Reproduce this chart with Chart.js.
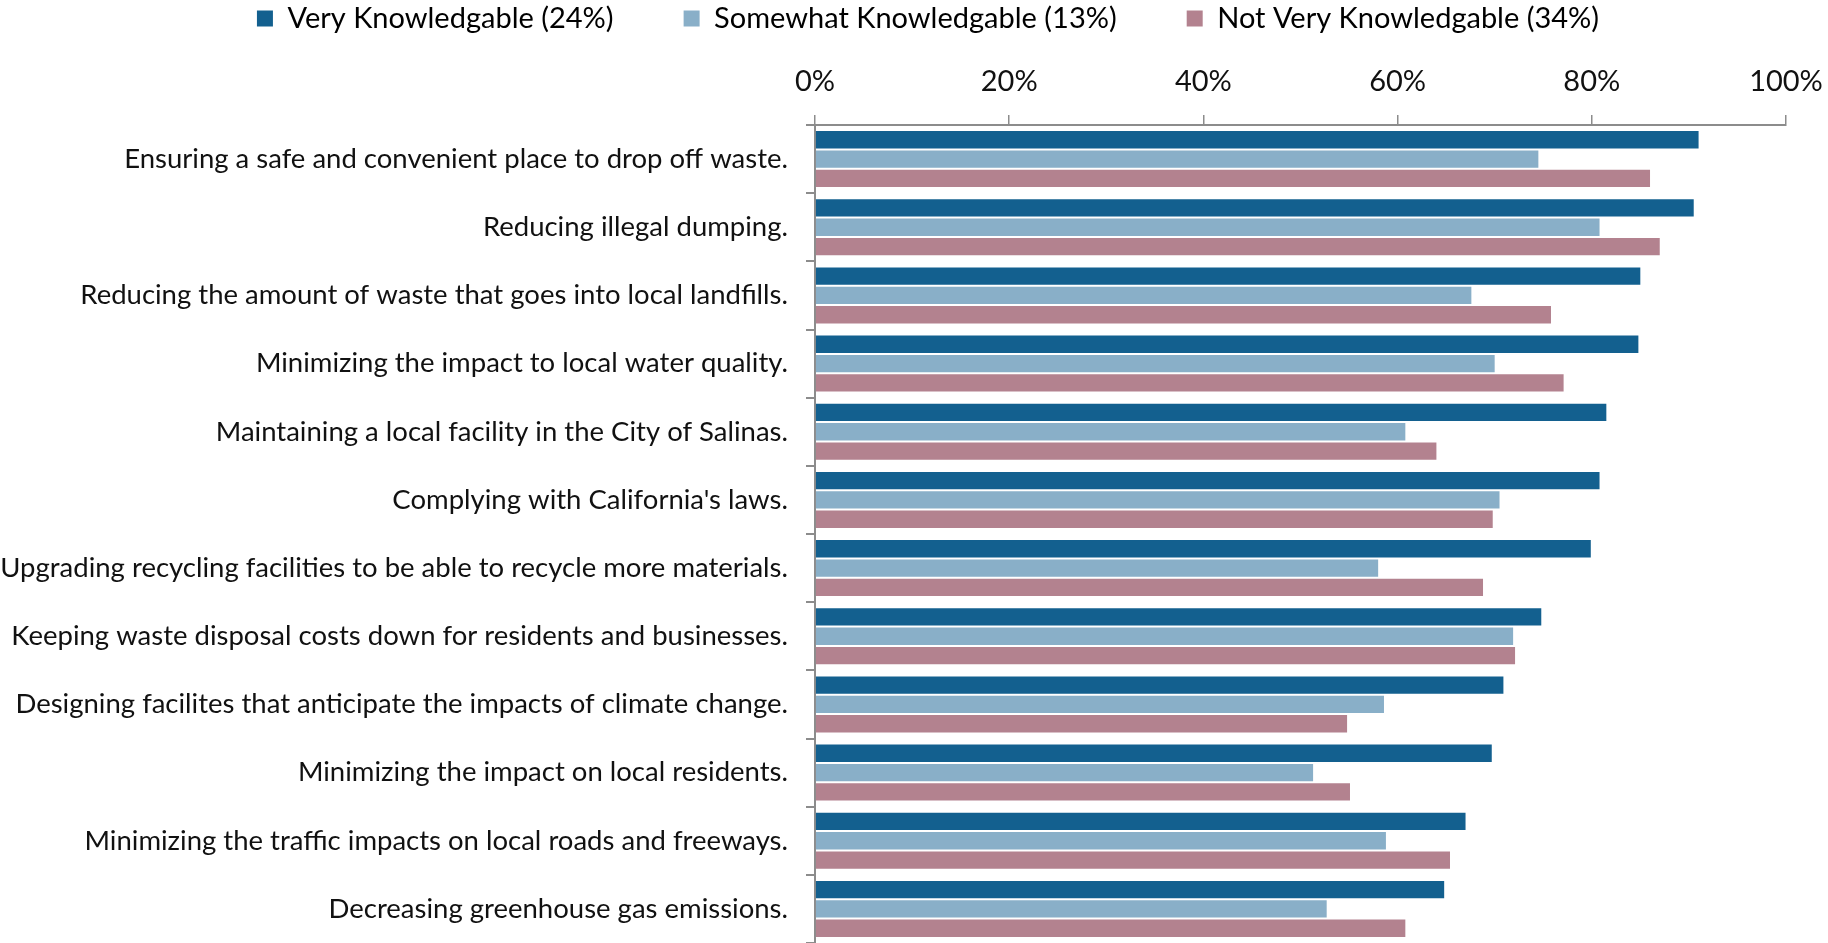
<!DOCTYPE html>
<html>
<head>
<meta charset="utf-8">
<script src="https://cdn.jsdelivr.net/npm/chart.js@4/dist/chart.umd.min.js"></script>
<style>
    html, body { margin: 0; padding: 0; background: #fff; }
    #wrap { width: 1828px; height: 943px; position: relative; }
</style>
</head>
<body>
<div id="wrap"><canvas id="chart"></canvas></div>
<script>
const categories = [
    'Ensuring a safe and convenient place to drop off waste.',
    'Reducing illegal dumping.',
    'Reducing the amount of waste that goes into local landfills.',
    'Minimizing the impact to local water quality.',
    'Maintaining a local facility in the City of Salinas.',
    "Complying with California's laws.",
    'Upgrading recycling facilities to be able to recycle more materials.',
    'Keeping waste disposal costs down for residents and businesses.',
    'Designing facilites that anticipate the impacts of climate change.',
    'Minimizing the impact on local residents.',
    'Minimizing the traffic impacts on local roads and freeways.',
    'Decreasing greenhouse gas emissions.',
];
const seriesNames = ['Very Knowledgable (24%)', 'Somewhat Knowledgable (13%)', 'Not Very Knowledgable (34%)'];
const veryKnowledgable = [91.1, 90.6, 85.1, 84.9, 81.6, 80.9, 80.0, 74.9, 71.0, 69.8, 67.1, 64.9];
const somewhatKnowledgable = [74.6, 80.9, 67.7, 70.1, 60.9, 70.6, 58.1, 72.0, 58.7, 51.4, 58.9, 52.8];
const notVeryKnowledgable = [86.1, 87.1, 75.9, 77.2, 64.1, 69.9, 68.9, 72.2, 54.9, 55.2, 65.5, 60.9];
const tickValues = [0, 20, 40, 60, 80, 100];

const COLORS = ['#13608F', '#89AFC8', '#B3828F'];
const FONT = 'Lato, "Liberation Sans", sans-serif';
const AXIS_GRAY = '#8C8C8C';
const LEGEND_GAP = 70;
const LEGEND_SHIFT = 35;

// the legend is centred over the canvas minus right padding; nudge it back
const legendNudge = {
    id: 'legendNudge',
    afterLayout(chart) {
        chart.legend.left += LEGEND_SHIFT;
        chart.legend.right += LEGEND_SHIFT;
    },
};

const ctx = document.getElementById('chart').getContext('2d');
new Chart(ctx, {
    type: 'bar',
    data: {
        labels: categories,
        datasets: [veryKnowledgable, somewhatKnowledgable, notVeryKnowledgable].map((data, i) => ({
            label: seriesNames[i],
            data,
            backgroundColor: COLORS[i],
            borderColor: 'rgba(255,255,255,0.5)',
            borderWidth: 1,
            barPercentage: 1,
            categoryPercentage: 0.85,
        })),
    },
    plugins: [legendNudge],
    options: {
        indexAxis: 'y',
        responsive: true,
        maintainAspectRatio: false,
        animation: false,
        // negative top pad: the legend's item padding doubles as its top offset
        layout: { padding: { left: 0, right: 42, top: -LEGEND_GAP + 4, bottom: 0 } },
        plugins: {
            legend: {
                position: 'top',
                labels: {
                    font: { family: FONT, size: 29 },
                    color: '#111',
                    boxWidth: 16,
                    boxHeight: 16,
                    padding: LEGEND_GAP,
                    generateLabels: (chart) => chart.data.datasets.map((ds, i) => ({
                        text: ds.label,
                        fillStyle: ds.backgroundColor,
                        strokeStyle: ds.backgroundColor,
                        lineWidth: 0,
                        hidden: false,
                        datasetIndex: i,
                    })),
                },
            },
            tooltip: { enabled: false },
        },
        scales: {
            x: {
                position: 'top',
                min: 0,
                max: 100,
                afterBuildTicks: (scale) => { scale.ticks = tickValues.map((v) => ({ value: v })); },
                afterFit: (scale) => {
                    scale.height = 82;
                    scale.paddingLeft = 0;
                    scale.paddingRight = 0;
                },
                ticks: {
                    font: { family: FONT, size: 29 },
                    color: '#111',
                    padding: 16,
                    callback: (value) => value + '%',
                },
                grid: { drawOnChartArea: false, drawTicks: true, tickLength: 10, color: AXIS_GRAY, lineWidth: 1.5 },
                border: { color: AXIS_GRAY, width: 2 },
            },
            y: {
                afterFit: (scale) => {
                    scale.width = 815;
                    scale.paddingTop = 0;
                    scale.paddingBottom = 0;
                },
                ticks: {
                    font: { family: FONT, size: 27.5 },
                    color: '#111',
                    padding: 18,
                },
                grid: { drawOnChartArea: false, drawTicks: true, tickLength: 9, color: AXIS_GRAY, lineWidth: 2 },
                border: { color: AXIS_GRAY, width: 2 },
            },
        },
    },
});
</script>
</body>
</html>
